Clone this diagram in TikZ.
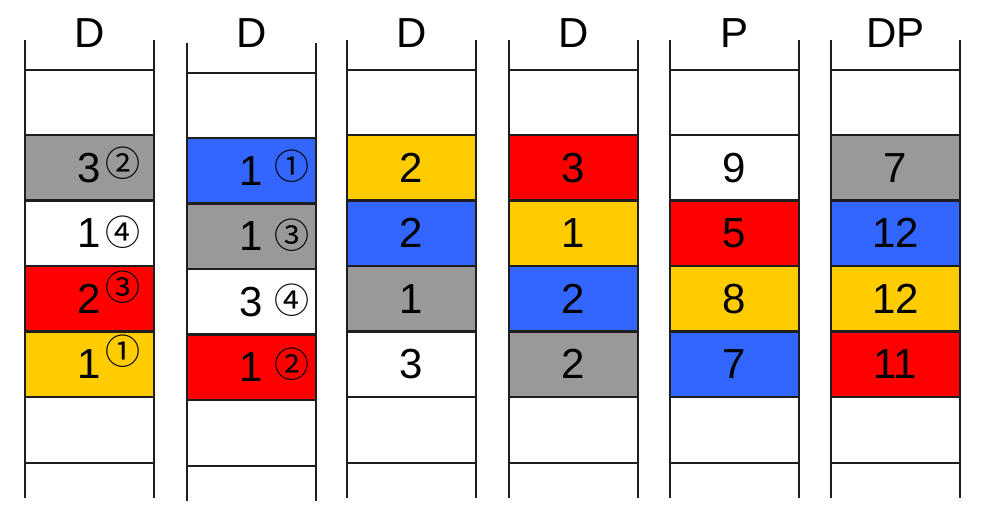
\documentclass[tikz,border=0pt]{standalone}
\usepackage{fontspec}
\setmainfont{Liberation Sans}
\newfontfamily\circfont{Noto Sans CJK SC}
\usetikzlibrary{calc}
\definecolor{cellgray}{RGB}{153,153,153}
\definecolor{cellblue}{RGB}{51,102,255}
\definecolor{cellred}{RGB}{255,0,0}
\definecolor{cellyellow}{RGB}{255,204,0}
\definecolor{railblack}{RGB}{30,30,30}
\tikzset{
  rail/.style={draw=railblack, line width=2.2pt},
  rung/.style={draw=railblack, line width=2.2pt},
  title/.style={font=\fontsize{42}{48}\selectfont, inner sep=0pt, anchor=base},
  cell/.style={draw=railblack, line width=2.2pt, minimum width=129pt, minimum height=65.5pt,
               inner sep=0pt, font=\fontsize{42}{48}\selectfont},
  circnum/.style={font=\circfont\fontsize{35}{38}\selectfont, inner sep=0pt},
}
\begin{document}
\begin{tikzpicture}[x=1pt, y=-1pt]
\useasboundingbox (0,0) rectangle (990,529);
% ladders with titles
\foreach \x/\t/\dy [count=\i] in {25/D/0, 187/D/3, 347/D/0, 509/D/0, 670/P/0, 831/DP/0}
{
  \draw[rail] (\x,40+\dy) -- (\x,498+\dy) (\x+129,40+\dy) -- (\x+129,498+\dy);
  \draw[rung] (\x,70+\dy) -- (\x+129,70+\dy) (\x,463+\dy) -- (\x+129,463+\dy);
  \node[title] (t\i) at (\x+64.5,48) {\t};
}
% column 1
\foreach \c/\v [count=\k] in {cellgray/3, white/1, cellred/2, cellyellow/1}
  \node[cell, fill=\c] (a\k) at (89.5,167.75+65.5*\k-65.5) {\v};
\node[circnum] (ma1) at ($(a1)+(33,-5)$) {②};
\node[circnum] (ma2) at ($(a2)+(33,-1)$) {④};
\node[circnum] (ma3) at ($(a3)+(33,-12)$) {③};
\node[circnum] (ma4) at ($(a4)+(33,-13)$) {①};
% column 2
\foreach \c/\v [count=\k] in {cellblue/1, cellgray/1, white/3, cellred/1}
  \node[cell, fill=\c] (b\k) at (251.5,170.75+65.5*\k-65.5) {\v};
\node[circnum] (mb1) at ($(b1)+(40,-5)$) {①};
\node[circnum] (mb2) at ($(b2)+(40,-1)$) {③};
\node[circnum] (mb3) at ($(b3)+(40,-2)$) {④};
\node[circnum] (mb4) at ($(b4)+(40,-3)$) {②};
% column 3
\foreach \c/\v [count=\k] in {cellyellow/2, cellblue/2, cellgray/1, white/3}
  \node[cell, fill=\c] (c\k) at (411.5,167.75+65.5*\k-65.5) {\v};
% column 4
\foreach \c/\v [count=\k] in {cellred/3, cellyellow/1, cellblue/2, cellgray/2}
  \node[cell, fill=\c] (d\k) at (573.5,167.75+65.5*\k-65.5) {\v};
% column 5
\foreach \c/\v [count=\k] in {white/9, cellred/5, cellyellow/8, cellblue/7}
  \node[cell, fill=\c] (p\k) at (734.5,167.75+65.5*\k-65.5) {\v};
% column 6
\foreach \c/\v [count=\k] in {cellgray/7, cellblue/12, cellyellow/12, cellred/11}
  \node[cell, fill=\c] (q\k) at (895.5,167.75+65.5*\k-65.5) {\v};
\end{tikzpicture}
\end{document}
